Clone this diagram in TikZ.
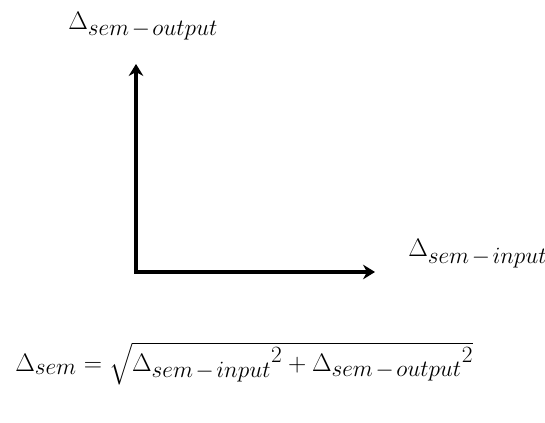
\RequirePackage{fix-cm}
\documentclass[tikz,border=0pt]{standalone}
\usepackage{amsmath}
\usepackage{tikz}
\usetikzlibrary{arrows.meta, positioning}
\DeclareMathSizes{19}{19}{17.5}{12}
\newcommand{\dsem}[1]{\Delta_{sem\mathbin{\mskip2mu-\mskip2mu}#1}}
\tikzset{
	axis/.style  ={line width=2.3pt, {Stealth[length=9pt, width=11pt, inset=3pt]}-{Stealth[length=9pt, width=11pt, inset=3pt]}},
	axlabel/.style={inner sep=0pt, anchor=base west},
}

\begin{document}
\begin{tikzpicture}[x=0.75pt, y=-0.75pt, font=\fontsize{19}{23}\selectfont]
	\useasboundingbox (0,0) rectangle (545,423);
	% axes
	\coordinate (O) at (136,272);
	\coordinate (yTip) at (136,64);
	\coordinate (xTip) at (375,272);
	\draw[axis] (yTip) -- (O) -- (xTip);
	% labels
	\node[axlabel] (yLab) at (68,30) {$\dsem{output}$};
	\node[axlabel] (xLab) at (408,257) {$\dsem{input}$};
	\node[axlabel] (formula) at (15,371) {$\Delta_{sem} = \sqrt{{\dsem{input}}^2 + {\dsem{output}}^2}$};
\end{tikzpicture}
\end{document}
